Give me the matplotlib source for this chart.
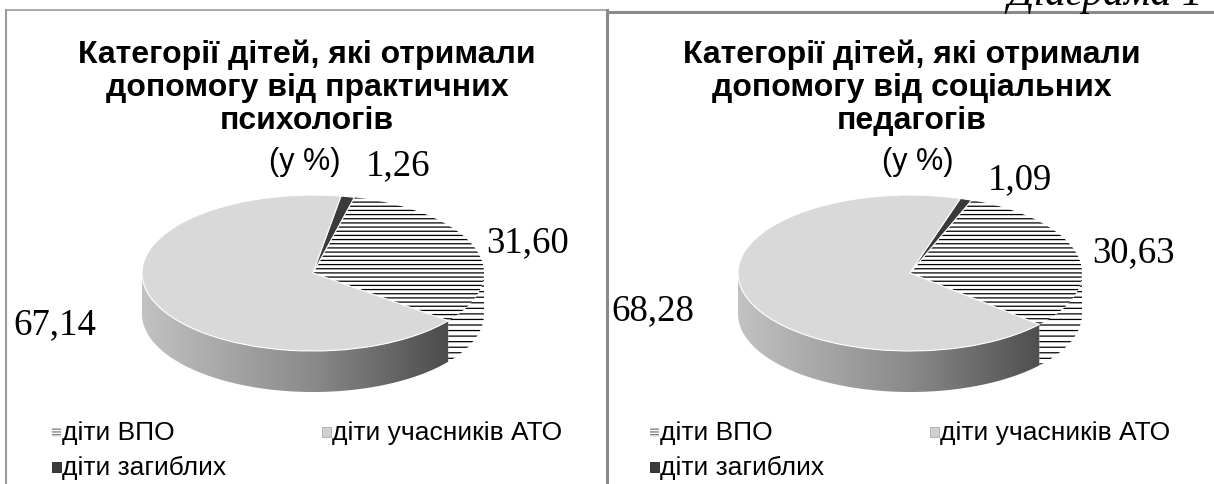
import numpy as np
import matplotlib
matplotlib.use("Agg")
import matplotlib.pyplot as plt
from matplotlib.patches import Polygon, Rectangle
from matplotlib.colors import LinearSegmentedColormap

plt.rcParams['hatch.linewidth'] = 0.9

# data
categories = ["діти ВПО", "діти учасників АТО", "діти загиблих"]
psychologists = [31.60, 67.14, 1.26]
social_teachers = [30.63, 68.28, 1.09]
titles = ["Категорії дітей, які отримали\nдопомогу від практичних\nпсихологів",
          "Категорії дітей, які отримали\nдопомогу від соціальних\nпедагогів"]
subtitle = "(у %)"
caption = "Діаграма 1"

W, H = 1214, 484
face_colors = ["white", "#d9d9d9", "#3a3a3a"]
side_cmap = LinearSegmentedColormap.from_list("side", ["#c2c2c2", "#8a8a8a", "#3c3c3c"])

fig = plt.figure(figsize=(W / 100, H / 100), dpi=100)
bg = fig.add_axes([0, 0, 1, 1])
bg.set_xlim(0, W)
bg.set_ylim(H, 0)
bg.axis("off")


def pie3d(values, cx, cy, a, b, t, start):
    d = t / b
    left = cx - 1.1 * a
    bottom = cy + 1.1 * b + t
    ax = fig.add_axes([left / W, (H - bottom) / H, 2.2 * a / W, (2.2 * b + t) / H])
    wedges, _ = ax.pie(values, startangle=90 - start, counterclock=False,
                       colors=face_colors, radius=1, center=(0, 0),
                       wedgeprops=dict(edgecolor="white", linewidth=0.8))
    wedges[0].set_edgecolor("black")
    wedges[0].set_linewidth(0)
    wedges[0].set_hatch("----")
    for w in wedges:
        w.set_zorder(3)
    # side of the cylinder (front half only)
    for i, w in enumerate(wedges):
        t1, t2 = w.theta1, w.theta2
        for shift in (-360, 0, 360):
            lo, hi = max(t1, 180 + shift), min(t2, 360 + shift)
            if hi <= lo:
                continue
            th = np.radians(np.linspace(lo, hi, 120))
            top = np.column_stack([np.cos(th), np.sin(th)])
            bot = np.column_stack([np.cos(th), np.sin(th) - d])[::-1]
            pts = np.vstack([top, bot])
            if i == 0:
                ax.add_patch(Polygon(pts, closed=True, facecolor="white", edgecolor="black",
                                     linewidth=0, hatch="---", zorder=2))
            else:
                poly = Polygon(pts, closed=True, facecolor="none", edgecolor="none", zorder=2)
                ax.add_patch(poly)
                grad = np.linspace(0, 1, 256).reshape(1, -1)
                im = ax.imshow(grad, cmap=side_cmap if i == 1 else "gray", aspect="auto",
                               extent=[-1, 1, -1 - d, 0.2], zorder=2)
                im.set_clip_path(poly)
    ax.set_aspect("auto")
    ax.set_xlim(-1.1, 1.1)
    ax.set_ylim(-1.1 - d, 1.1)
    ax.axis("off")
    return ax


pie3d(psychologists, 313, 273, 171, 78, 41, 14)
pie3d(social_teachers, 910, 273, 172, 78, 41, 21)

# panel borders
bg.plot([6, 607], [10, 10], color="#9a9a9a", lw=1.2)
bg.plot([6, 6], [10, H], color="#9a9a9a", lw=1.5)
bg.plot([607, 607], [10, H], color="#8a8a8a", lw=2.2)
bg.plot([607, W], [12, 12], color="#8a8a8a", lw=2.2)

bg.text(1007, 5, caption, fontsize=30, family="Liberation Serif", style="italic",
        ha="left", va="baseline")

# titles and labels
for title, x0 in zip(titles, (307, 912)):
    bg.text(x0, 88, title, fontsize=23, fontweight="bold", family="Liberation Sans",
            ha="center", va="center", linespacing=1.14)
bg.text(305, 162, subtitle, fontsize=22, family="Liberation Sans", ha="center", va="center")
bg.text(918, 162, subtitle, fontsize=22, family="Liberation Sans", ha="center", va="center")

num = lambda v: f"{v:.2f}".replace(".", ",")
serif = dict(fontsize=26.5, family="Liberation Serif", va="center")
bg.text(398, 166, num(psychologists[2]), ha="center", **serif)
bg.text(528, 243, num(psychologists[0]), ha="center", **serif)
bg.text(55, 325, num(psychologists[1]), ha="center", **serif)
bg.text(1020, 180, num(social_teachers[2]), ha="center", **serif)
bg.text(1133, 253, num(social_teachers[0]), ha="center", **serif)
bg.text(653, 311, num(social_teachers[1]), ha="center", **serif)

# legends
for x0, gap in ((52, 270), (650, 280)):
    positions = [(x0, 432), (x0 + gap, 432), (x0, 467)]
    for k, (lx, ly) in enumerate(positions):
        if k == 0:
            bg.add_patch(Rectangle((lx, ly - 5), 9, 10, facecolor="white", edgecolor="#777777",
                                   hatch="------", linewidth=0))
        elif k == 1:
            bg.add_patch(Rectangle((lx, ly - 5), 9, 10, facecolor="#d0d0d0", edgecolor="#aaaaaa",
                                   linewidth=0.6))
        else:
            bg.add_patch(Rectangle((lx, ly - 5), 9, 10, facecolor="#3a3a3a", edgecolor="#222222",
                                   linewidth=0.6))
        bg.text(lx + 10, ly + 1, categories[k], fontsize=19, family="Liberation Sans",
                ha="left", va="center")

fig.savefig("out.png", dpi=100)
